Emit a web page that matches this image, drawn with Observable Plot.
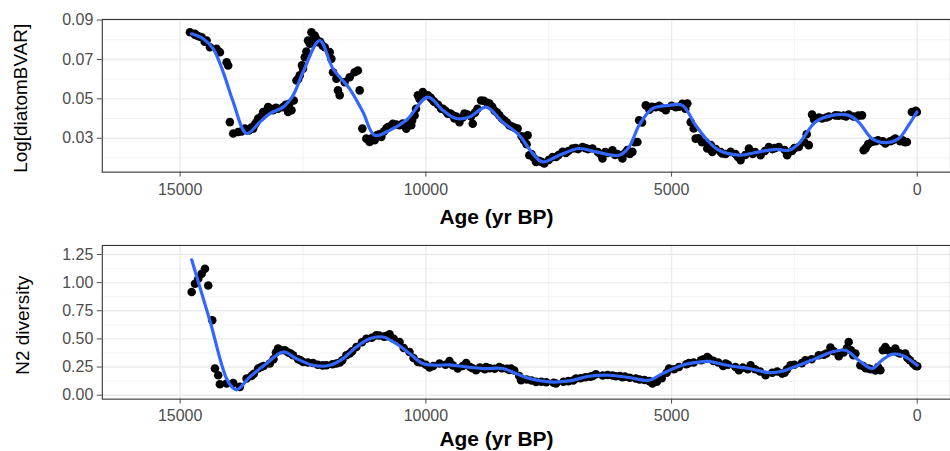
<!DOCTYPE html>
<html>
<head>
<meta charset="utf-8">
<script src="https://cdn.jsdelivr.net/npm/d3@7"></script>
<script src="https://cdn.jsdelivr.net/npm/@observablehq/plot@0.6"></script>
<style>
  html, body { margin: 0; padding: 0; background: #fff; overflow: hidden; }
  #wrap { width: 950px; height: 451px; overflow: hidden; position: relative; }
  #wrap svg { display: block; }
</style>
</head>
<body>
<div id="wrap"></div>
<script>
// ---------- tick values ----------
const xTicks = [15000, 10000, 5000, 0];
const xMinor = [12500, 7500, 2500];
const topYTicks = [0.03, 0.05, 0.07, 0.09];
const topYMinor = [0.02, 0.04, 0.06, 0.08];
const botYTicks = [0, 0.25, 0.5, 0.75, 1.0, 1.25];
const botYMinor = [0.125, 0.375, 0.625, 0.875, 1.125];

// ---------- top panel: Log[diatomBVAR] points ----------
const topAge = [14800,14698,14562,14461,14394,14258,14191,14054,14022,13988,13920,13819,13683,13514,13413,13311,13210,13108,13007,12905,12803,12734,12688,12633,12566,12499,12464,12397,12328,12261,12194,12058,11956,11922,11889,11820,11753,11788,11652,11550,11449,11382,11347,11292,11211,11144,11042,10906,10772,10671,10535,10399,10297,10230,10163,10062,9960,9824,9688,9554,9418,
9452,9316,9215,9046,8875,8707,8504,8301,8132,7929,7894,7758,7590,7421,7218,7015,6812,6609,6406,6203,6000,5797,5695,5660,5524,5321,5118,4915,4679,4610,4509,4273,
4306,4172,3969,3798,3595,3426,3189,3020,2817,2648,2411,2208,2141,1938,1665,1395,1125,1091,922,650,447,211,110,8,
14700,14650,14600,14500,13750,13600,13550,13480,13450,13350,13280,13250,13150,13050,12850,12780,12600,12520,12430,12360,12300,12230,12150,12100,
11100,11000,10950,10850,10800,10700,10600,10470,10350,10280,10200,10130,10000,9900,9850,9750,9650,9600,9500,9380,9330,9250,9150,9080,9000,8950,8820,8750,8650,8600,8550,8450,8400,8350,8250,8200,8050,8000,7950,7850,7800,7700,7650,7500,7350,7300,7150,7100,6950,6900,6750,6700,6500,6450,6350,6300,6150,6100,5950,5900,5850,5750,5600,5450,5400,5250,5200,5000,4850,4780,4720,4550,4450,4380,4200,4100,4000,3900,3700,3650,3500,3350,3300,3100,2950,2900,2700,2550,2500,2300,2250,2100,2000,1850,1800,1600,1500,1450,1300,1200,1050,1000,850,800,700,550,500,350,300,250,60,30];
const topVal = [0.0838,0.083,0.0813,0.0796,0.0762,0.0754,0.0737,0.0686,0.0669,0.0382,0.0324,0.0332,0.0349,0.0349,0.040,0.0433,0.0458,0.0442,0.045,0.0458,0.0433,0.0442,0.0492,0.0593,0.0619,0.0653,0.0711,0.0796,0.0838,0.0821,0.0787,0.0762,0.0737,0.0703,0.0635,0.0602,0.0518,0.0543,0.0585,0.061,0.0635,0.0644,0.0543,0.0349,0.0298,0.0281,0.029,0.0307,0.0357,0.0374,0.0366,0.0349,0.0366,0.0416,0.0518,0.0534,0.0518,0.0484,0.045,0.0425,0.040,
0.0416,0.0382,0.0425,0.0374,0.0492,0.0476,0.0416,0.0366,0.0349,0.0315,0.0214,0.018,0.0172,0.0205,0.0231,0.0248,0.0256,0.0248,0.0197,0.0239,0.0197,0.0231,0.0281,0.0391,0.0467,0.0458,0.0442,0.0458,0.0476,0.0382,0.0298,0.0248,
0.0281,0.0231,0.0223,0.0231,0.0189,0.0248,0.0214,0.0256,0.0256,0.0214,0.0256,0.0265,0.042,0.040,0.0416,0.042,0.0416,0.0239,0.0281,0.0273,0.0298,0.0281,0.0433,0.0433,
0.0825,0.082,0.0815,0.079,0.0335,0.034,0.0355,0.037,0.038,0.041,0.043,0.0435,0.045,0.0455,0.047,0.0475,0.060,0.067,0.074,0.078,0.080,0.0805,0.079,0.077,
0.030,0.0315,0.032,0.0335,0.035,0.0365,0.037,0.0375,0.038,0.039,0.045,0.050,0.052,0.0505,0.049,0.047,0.045,0.044,0.0425,0.041,0.0395,0.0405,0.042,0.041,0.043,0.045,0.049,0.048,0.046,0.044,0.043,0.040,0.039,0.038,0.036,0.0355,0.031,0.029,0.027,0.022,0.020,0.0185,0.018,0.019,0.0205,0.0215,0.0225,0.0235,0.025,0.0245,0.025,0.0245,0.023,0.022,0.023,0.0225,0.0215,0.022,0.0225,0.024,0.022,0.028,0.038,0.0445,0.046,0.0465,0.0455,0.0465,0.046,0.0475,0.045,0.035,0.030,0.028,0.0265,0.0245,0.023,0.022,0.022,0.0205,0.0215,0.022,0.023,0.0235,0.0245,0.025,0.024,0.0235,0.025,0.028,0.032,0.0395,0.0405,0.0405,0.041,0.0415,0.0415,0.041,0.041,0.0415,0.025,0.027,0.0285,0.029,0.0285,0.0285,0.029,0.0285,0.029,0.028,0.043,0.044];

// ---------- top panel: smooth ----------
const topSmoothAge = [14766,14530,14327,14124,13920,13648,13378,13175,12905,12702,12498,12160,11890,11550,11280,11043,10738,10399,9960,9655,9383,9113,8774,8437,8098,7827,7624,7285,6879,6540,6066,5863,5660,5390,5051,4781,4510,4239,4036,3629,3223,2884,2614,2411,2072,1734,1395,1192,922,650,380,177,8];
const topSmoothVal = [0.083,0.0805,0.0754,0.0636,0.0484,0.0324,0.0382,0.0425,0.0458,0.0518,0.0636,0.0796,0.0653,0.0551,0.0433,0.0315,0.034,0.0391,0.0509,0.0442,0.040,0.0408,0.0458,0.0382,0.0315,0.0223,0.018,0.0214,0.0248,0.0231,0.0214,0.0256,0.0366,0.045,0.0467,0.0467,0.0366,0.0281,0.0239,0.0214,0.0231,0.0244,0.0239,0.0273,0.0382,0.0416,0.0416,0.0382,0.0298,0.0278,0.0298,0.0366,0.0433];

// ---------- bottom panel: N2 diversity points ----------
const botAge = [14765,14698,14631,14562,14495,14428,14347,14292,14225,14191,14054,13920,13784,13648,13413,13175,13007,12870,12702,12499,12295,12023,11820,11617,11414,11211,11008,10738,10535,10332,10163,9926,9722,9519,9351,
9180,8977,8774,8504,8266,8063,7758,7352,6946,6540,6134,5727,5390,5051,4645,4273,
4239,3900,3629,3392,3087,2750,2579,2275,2005,1767,1598,1395,1259,1158,989,751,650,447,244,0,
13550,13500,13350,13300,13100,13050,12950,12800,12750,12600,12550,12400,12200,12100,11900,11750,11700,11550,11500,11300,11100,10950,10850,10800,10650,10450,10250,10100,10000,9850,9600,9450,9250,9100,9050,8900,8700,8600,8350,8200,8100,7950,7850,7650,7550,7200,7100,6850,6750,6600,6400,6300,6200,6050,5950,5850,5650,5550,5300,5200,5100,4950,4850,4700,4550,4400,4350,4150,4050,3850,3700,3550,3300,3200,2950,2850,2650,2500,2350,2150,1900,1850,1700,1500,1430,1350,1300,1100,1050,950,850,800,700,600,550,400,350,200,150,80,30,
8800,8450,8300,7400,7000,6650,6000,5450,3950,3450,2700];
const botVal = [0.916,0.99,1.035,1.079,1.123,0.975,0.665,0.237,0.177,0.098,0.104,0.109,0.074,0.148,0.237,0.281,0.414,0.399,0.355,0.295,0.286,0.266,0.281,0.355,0.428,0.502,0.532,0.541,0.473,0.384,0.295,0.246,0.281,0.304,0.237,
0.286,0.222,0.251,0.251,0.237,0.133,0.118,0.104,0.148,0.186,0.168,0.148,0.104,0.237,0.286,0.339,
0.325,0.281,0.222,0.266,0.177,0.192,0.266,0.31,0.355,0.423,0.346,0.473,0.37,0.266,0.237,0.222,0.428,0.414,0.37,0.257,
0.17,0.19,0.25,0.26,0.32,0.38,0.40,0.38,0.37,0.32,0.31,0.29,0.27,0.265,0.275,0.29,0.31,0.37,0.39,0.47,0.51,0.53,0.52,0.525,0.50,0.42,0.33,0.29,0.27,0.26,0.27,0.265,0.26,0.25,0.24,0.245,0.24,0.235,0.235,0.22,0.17,0.14,0.13,0.12,0.115,0.12,0.125,0.15,0.16,0.17,0.175,0.18,0.175,0.17,0.165,0.155,0.14,0.135,0.12,0.15,0.20,0.23,0.25,0.275,0.29,0.31,0.32,0.305,0.29,0.27,0.25,0.245,0.23,0.21,0.20,0.21,0.23,0.27,0.285,0.32,0.36,0.37,0.39,0.38,0.42,0.40,0.355,0.26,0.24,0.23,0.22,0.25,0.40,0.40,0.39,0.38,0.37,0.33,0.31,0.28,0.26,
0.23,0.24,0.225,0.11,0.13,0.165,0.16,0.125,0.26,0.23,0.20];

// ---------- bottom panel: smooth ----------
const botSmoothAge = [14765,14394,14022,13851,13581,13242,12905,12633,12295,11956,11686,11414,11144,10874,10602,10332,10062,9789,9519,9180,8843,8437,8165,7894,7488,7082,6676,6270,5864,5457,5187,4781,4306,4239,3765,3426,3020,2750,2411,2072,1734,1462,1192,922,719,516,313,0];
const botSmoothVal = [1.203,0.662,0.118,0.048,0.163,0.281,0.384,0.325,0.266,0.266,0.325,0.428,0.502,0.517,0.458,0.37,0.281,0.266,0.27,0.251,0.237,0.237,0.192,0.148,0.118,0.127,0.168,0.177,0.157,0.133,0.192,0.266,0.30,0.30,0.257,0.237,0.201,0.213,0.266,0.325,0.384,0.399,0.31,0.237,0.31,0.363,0.355,0.266];

// ---------- build tables ----------
const zip = (a, b) => a.map((v, i) => ({age: v, val: b[i]}));
const topPts = zip(topAge, topVal);
const topSmooth = zip(topSmoothAge, topSmoothVal);
const botPts = zip(botAge, botVal);
const botSmooth = zip(botSmoothAge, botSmoothVal);

const FONT = "'Liberation Sans', Arial, Helvetica, sans-serif";
const W = 952, ML = 102;
const xDomain = [16584, -676];
const frameCx = (ML + W) / 2;

function panel({pts, smooth, yDomain, yTicks, yMinor, height, mt, mb, ylab, yTitleDx, yTitleDy, xTitleDy, xPad, yFmt}) {
  return Plot.plot({
    width: W, height,
    marginLeft: ML, marginRight: 0, marginTop: mt, marginBottom: mb,
    style: {fontFamily: FONT, background: "#fff", overflow: "visible"},
    x: {domain: xDomain, range: [ML, W]},
    y: {domain: yDomain},
    marks: [
      Plot.ruleY(yMinor, {stroke: "#f2f2f2", strokeWidth: 0.9}),
      Plot.ruleX(xMinor, {stroke: "#f2f2f2", strokeWidth: 0.9}),
      Plot.ruleY(yTicks, {stroke: "#ebebeb", strokeWidth: 1.4}),
      Plot.ruleX(xTicks, {stroke: "#ebebeb", strokeWidth: 1.4}),
      Plot.dot(pts, {x: "age", y: "val", r: 4.3, fill: "#000", stroke: "none"}),
      Plot.line(smooth, {x: "age", y: "val", stroke: "#3366FF", strokeWidth: 3.2, curve: "catmull-rom"}),
      Plot.frame({stroke: "#333", strokeWidth: 1.1}),
      Plot.axisY({ticks: yTicks, tickFormat: yFmt, tickSize: 5, tickPadding: 4, fontSize: 16, color: "#4d4d4d", label: null}),
      Plot.axisX({ticks: xTicks, tickFormat: d3.format("d"), tickSize: 5, tickPadding: xPad, fontSize: 16, color: "#4d4d4d", label: null}),
      Plot.text([ylab], {frameAnchor: "left", rotate: -90, dx: yTitleDx, dy: yTitleDy, fontSize: 19, fill: "#000", textAnchor: "middle", lineAnchor: "middle"}),
      Plot.text(["Age (yr BP)"], {frameAnchor: "bottom", dx: 497 - frameCx, dy: xTitleDy, fontSize: 21, fontWeight: "bold", fill: "#000", textAnchor: "middle", lineAnchor: "middle"})
    ]
  });
}

const topChart = panel({
  pts: topPts, smooth: topSmooth,
  yDomain: [0.0128, 0.0903], yTicks: topYTicks, yMinor: topYMinor,
  height: 230, mt: 19, mb: 58, ylab: "Log[diatomBVAR]",
  yTitleDx: -82, yTitleDy: 2.5, xTitleDy: 45, xPad: 7, yFmt: d3.format(".2f")
});
const botChart = panel({
  pts: botPts, smooth: botSmooth,
  yDomain: [-0.035, 1.33], yTicks: botYTicks, yMinor: botYMinor,
  height: 221, mt: 15, mb: 52, ylab: "N2 diversity",
  yTitleDx: -80, yTitleDy: 3, xTitleDy: 40, xPad: 6, yFmt: d3.format(".2f")
});
document.getElementById("wrap").append(topChart, botChart);
</script>
</body>
</html>
